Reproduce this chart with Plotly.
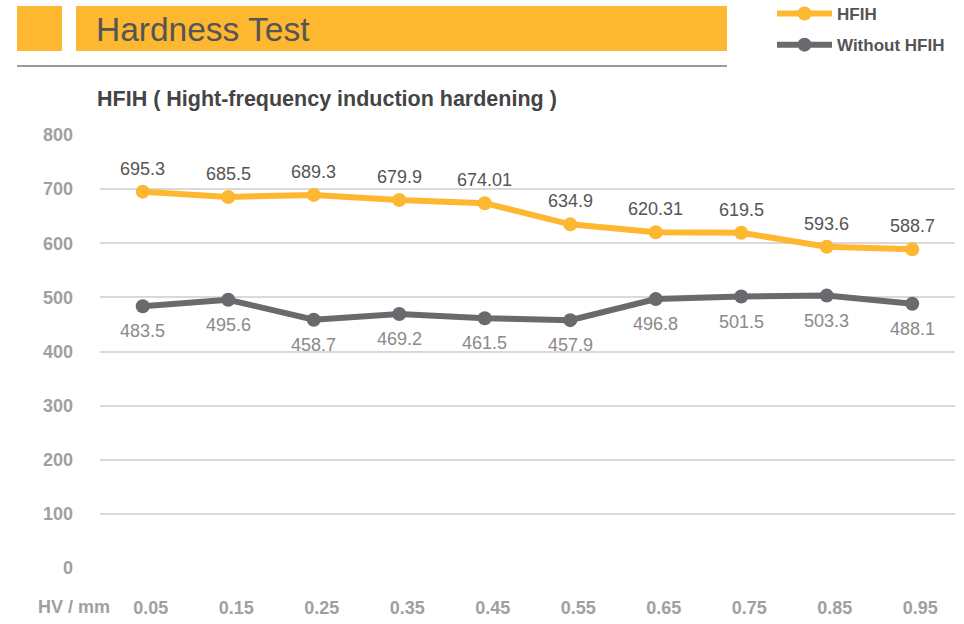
import plotly.graph_objects as go

depths = ["0.05", "0.15", "0.25", "0.35", "0.45", "0.55", "0.65", "0.75", "0.85", "0.95"]
hfih = [695.3, 685.5, 689.3, 679.9, 674.01, 634.9, 620.31, 619.5, 593.6, 588.7]
hfih_labels = ["695.3", "685.5", "689.3", "679.9", "674.01", "634.9", "620.31", "619.5", "593.6", "588.7"]
without = [483.5, 495.6, 458.7, 469.2, 461.5, 457.9, 496.8, 501.5, 503.3, 488.1]
without_labels = ["483.5", "495.6", "458.7", "469.2", "461.5", "457.9", "496.8", "501.5", "503.3", "488.1"]
y_ticks = [0, 100, 200, 300, 400, 500, 600, 700, 800]

ORANGE = "#FDB731"
GRAY = "#6A6A6E"
FONT = "Liberation Sans, Arial, sans-serif"

fig = go.Figure()
fig.add_trace(go.Scatter(x=depths, y=hfih, name="HFIH", mode="lines+markers", legendgroup="a",
                         line=dict(color=ORANGE, width=6), marker=dict(size=14, color=ORANGE)))
fig.add_trace(go.Scatter(x=depths, y=without, name="Without HFIH", mode="lines+markers", legendgroup="b",
                         line=dict(color=GRAY, width=6), marker=dict(size=14, color=GRAY)))

annotations = []
for i, (v, t) in enumerate(zip(hfih, hfih_labels)):
    annotations.append(dict(x=i, y=v, xref="x", yref="y", text=t, showarrow=False, yshift=23,
                            font=dict(family=FONT, size=18, color="#555555")))
for i, (v, t) in enumerate(zip(without, without_labels)):
    annotations.append(dict(x=i, y=v, xref="x", yref="y", text=t, showarrow=False, yshift=-25,
                            font=dict(family=FONT, size=18, color="#8a8a8a")))

# plot area: x 100..955 px, y 135..568 px
def px_x(p):
    return (p - 100) / 855
def px_y(p):
    return (568 - p) / 433

annotations.append(dict(xref="paper", yref="paper", x=px_x(74), y=px_y(607), xanchor="center", yanchor="middle",
                        text="<b>HV / mm</b>", showarrow=False,
                        font=dict(family=FONT, size=18, color="#a0a0a0")))
annotations.append(dict(xref="paper", yref="paper", x=px_x(95), y=px_y(99), xanchor="left", yanchor="middle",
                        text="<b>HFIH ( Hight-frequency induction hardening )</b>", showarrow=False,
                        font=dict(family=FONT, size=21.5, color="#444444")))
annotations.append(dict(xref="paper", yref="paper", x=px_x(94), y=px_y(30), xanchor="left", yanchor="middle",
                        text="Hardness Test", showarrow=False,
                        font=dict(family=FONT, size=33.5, color="#555555")))

shapes = [
    dict(type="rect", xref="paper", yref="paper", x0=px_x(17), x1=px_x(62), y0=px_y(51), y1=px_y(6),
         fillcolor=ORANGE, line=dict(width=0), layer="below"),
    dict(type="rect", xref="paper", yref="paper", x0=px_x(76), x1=px_x(727), y0=px_y(51), y1=px_y(6),
         fillcolor=ORANGE, line=dict(width=0), layer="below"),
    dict(type="line", xref="paper", yref="paper", x0=px_x(17), x1=px_x(727), y0=px_y(66), y1=px_y(66),
         line=dict(color="#9a9a9a", width=2)),
]

fig.update_layout(
    width=964, height=624,
    margin=dict(l=100, r=9, t=135, b=56, autoexpand=False),
    paper_bgcolor="white", plot_bgcolor="white",
    font=dict(family=FONT),
    showlegend=True,
    legend=dict(x=px_x(772), y=px_y(-4), xanchor="left", yanchor="top",
                font=dict(family=FONT, size=17, color="#555555", weight="bold"),
                bgcolor="rgba(0,0,0,0)", itemwidth=55, tracegroupgap=6),
    annotations=annotations,
    shapes=shapes,
    xaxis=dict(type="category", range=[-0.5, 9.5], showgrid=False, zeroline=False, showline=False,
               ticks="", ticklabelstandoff=27, ticklabelshift=8,
               tickfont=dict(family=FONT, size=18, color="#a0a0a0", weight="bold")),
    yaxis=dict(range=[0, 800], tickvals=y_ticks, showgrid=True, gridcolor="#d9d9d9", gridwidth=2,
               zeroline=False, showline=False, ticks="", ticklabelstandoff=26,
               tickfont=dict(family=FONT, size=18, color="#a0a0a0", weight="bold")),
)

fig.write_html("out.html", config={"displayModeBar": False},
               post_script="document.body.style.margin='0';document.body.style.padding='0';")
